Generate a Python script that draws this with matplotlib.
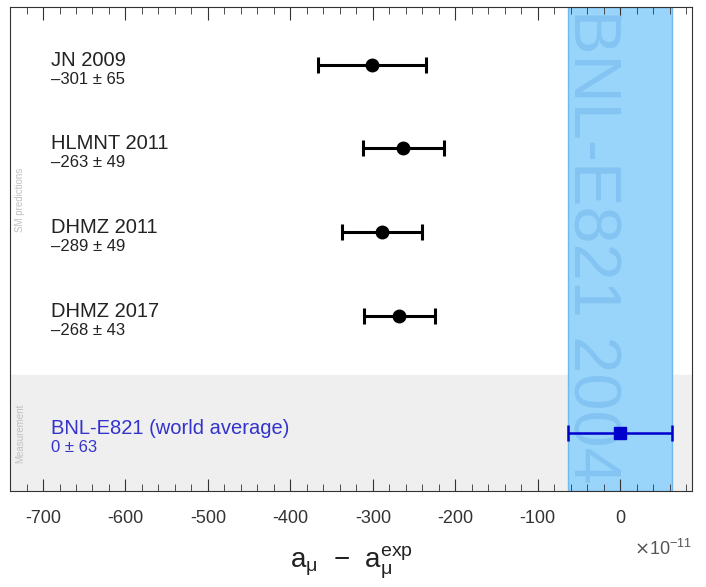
import matplotlib.pyplot as plt
from matplotlib.ticker import MultipleLocator, FuncFormatter

plt.rcParams["font.family"] = ["Liberation Sans", "DejaVu Sans"]
plt.rcParams["axes.unicode_minus"] = False

# predictions (x 1e-11), relative to the experimental value
names = ["JN 2009", "HLMNT 2011", "DHMZ 2011", "DHMZ 2017"]
values = [-301, -263, -289, -268]
errors = [65, 49, 49, 43]
exp_name = "BNL-E821 (world average)"
exp_value = 0
exp_error = 63

rows = [0.69, 1.68, 2.68, 3.68]
exp_row = 5.07

fig = plt.figure(figsize=(7.06, 5.87), dpi=100)
ax = fig.add_axes([0.0142, 0.1635, 0.966, 0.8245])
ax.set_xlim(-740, 87)
ax.set_ylim(5.76, 0)

# measurement region and experimental band
ax.axhspan(4.38, 5.76, color="#efefef", zorder=0)
ax.axvspan(exp_value - exp_error, exp_value + exp_error, facecolor="#99d4fb",
           edgecolor="#70b8f0", lw=1, zorder=1)
ax.text(exp_value - 36, 0.02, "BNL-E821 2004", rotation=-90, ha="center", va="top",
        fontsize=48, color="#84c4f2", zorder=2)

ax.errorbar(values, rows, xerr=errors, fmt="o", color="black", ms=9,
            elinewidth=2.2, capsize=6, capthick=2.2, zorder=3)
ax.errorbar([exp_value], [exp_row], xerr=[exp_error], fmt="s", color="#0000cc",
            ms=9, elinewidth=1.8, capsize=6, capthick=1.8, zorder=3)

lx = -690
for n, v, e, r in zip(names, values, errors, rows):
    ax.text(lx, r + 0.06, n, fontsize=14.5, color="#222222", va="bottom")
    ax.text(lx, r + 0.08, "\u2013%d \u00b1 %d" % (-v, e), fontsize=12,
            color="#222222", va="top")
ax.text(lx, exp_row + 0.06, exp_name, fontsize=14.5, color="#3333cc", va="bottom")
ax.text(lx, exp_row + 0.08, "%d \u00b1 %d" % (exp_value, exp_error), fontsize=12,
        color="#3333cc", va="top")

ax.text(-728, 2.3, "SM predictions", rotation=90, fontsize=7, color="#c0c0c0",
        ha="center", va="center")
ax.text(-728, 5.07, "Measurement", rotation=90, fontsize=7, color="#c0c0c0",
        ha="center", va="center")

ax.xaxis.set_major_locator(MultipleLocator(100))
ax.xaxis.set_minor_locator(MultipleLocator(20))
ax.xaxis.set_major_formatter(FuncFormatter(lambda x, p: "%d" % x))
ax.tick_params(axis="x", which="both", direction="in", top=True, labelsize=13,
               pad=14, colors="#333333")
ax.tick_params(axis="x", which="major", length=9)
ax.tick_params(axis="x", which="minor", length=5)
ax.set_yticks([])
for s in ax.spines.values():
    s.set_color("#333333")

ax.text(1.0, -0.12, r"$\times\mathregular{10^{-11}}$", transform=ax.transAxes,
        fontsize=13, color="#555555", ha="right", va="center")
ax.set_xlabel(r"$\mathregular{a_{\mu}}$  $\mathregular{-}$  $\mathregular{a_{\mu}^{exp}}$",
              fontsize=20, labelpad=12, color="#222222")

fig.savefig("out.png", dpi=100)
